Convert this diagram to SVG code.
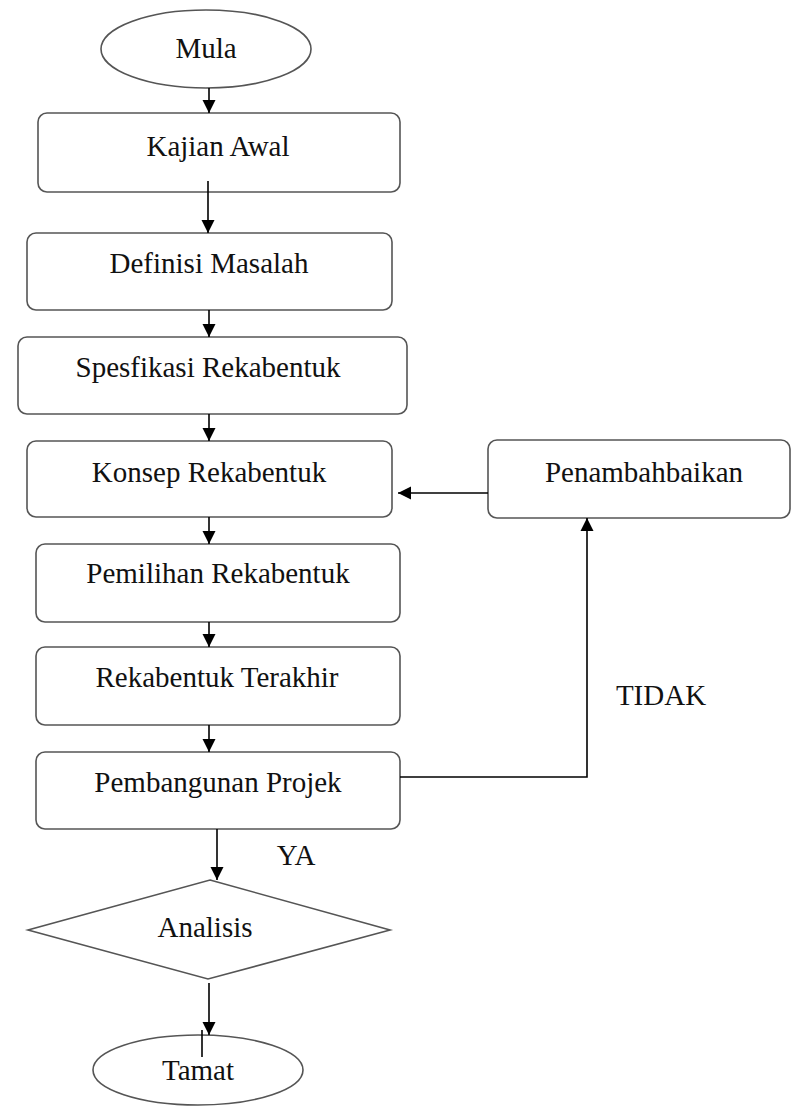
<svg xmlns="http://www.w3.org/2000/svg" width="792" height="1110" viewBox="0 0 792 1110">
<defs>
<marker id="ah" markerWidth="14" markerHeight="14" refX="13" refY="7" orient="auto" markerUnits="userSpaceOnUse">
<path d="M0,0.5 L13,7 L0,13.5 Z" fill="#000"/>
</marker>
<style>
.box{fill:#fff;stroke:#555;stroke-width:1.6}
.t{font-family:"Liberation Serif","Times New Roman",serif;font-size:29px;fill:#111;text-anchor:middle}
.c{stroke:#000;stroke-width:1.6;fill:none}
</style>
</defs>
<rect width="792" height="1110" fill="#fff"/>
<g id="mula"><ellipse class="box" cx="206" cy="49" rx="105" ry="39"/><text class="t" x="206" y="58">Mula</text></g>
<g id="kajian"><rect class="box" x="38" y="113" width="362" height="79" rx="9"/><text class="t" x="218" y="156">Kajian Awal</text></g>
<g id="definisi"><rect class="box" x="27" y="233" width="365" height="77" rx="9"/><text class="t" x="209" y="273">Definisi Masalah</text></g>
<g id="spesifikasi"><rect class="box" x="18" y="337" width="389" height="77" rx="9"/><text class="t" x="208" y="377">Spesfikasi Rekabentuk</text></g>
<g id="konsep"><rect class="box" x="27" y="441" width="365" height="76" rx="9"/><text class="t" x="209" y="482">Konsep Rekabentuk</text></g>
<g id="pemilihan"><rect class="box" x="36" y="544" width="364" height="78" rx="9"/><text class="t" x="218" y="583">Pemilihan Rekabentuk</text></g>
<g id="terakhir"><rect class="box" x="36" y="647" width="364" height="78" rx="9"/><text class="t" x="217" y="687">Rekabentuk Terakhir</text></g>
<g id="pembangunan"><rect class="box" x="36" y="752" width="364" height="77" rx="9"/><text class="t" x="218" y="792">Pembangunan Projek</text></g>
<g id="penambahbaikan"><rect class="box" x="488" y="440" width="302" height="78" rx="9"/><text class="t" x="644" y="482">Penambahbaikan</text></g>
<g id="analisis"><polygon class="box" points="210,880 390,930 208,979 28,930"/><text class="t" x="205" y="937">Analisis</text></g>
<g id="tamat"><ellipse class="box" cx="198" cy="1070" rx="105" ry="35"/><text class="t" x="198" y="1080">Tamat</text></g>
<g id="connectors">
<line class="c" x1="209" y1="88" x2="209" y2="113" marker-end="url(#ah)"/>
<line class="c" x1="208" y1="181" x2="208" y2="233" marker-end="url(#ah)"/>
<line class="c" x1="209" y1="310" x2="209" y2="337" marker-end="url(#ah)"/>
<line class="c" x1="209" y1="414" x2="209" y2="441" marker-end="url(#ah)"/>
<line class="c" x1="209" y1="517" x2="209" y2="544" marker-end="url(#ah)"/>
<line class="c" x1="209" y1="622" x2="209" y2="647" marker-end="url(#ah)"/>
<line class="c" x1="209" y1="725" x2="209" y2="752" marker-end="url(#ah)"/>
<line class="c" x1="217" y1="829" x2="217" y2="880" marker-end="url(#ah)"/>
<line class="c" x1="209" y1="983" x2="209" y2="1035" marker-end="url(#ah)"/>
<line class="c" x1="202" y1="1030" x2="202" y2="1057"/>
<line class="c" x1="488" y1="493" x2="398" y2="493" marker-end="url(#ah)"/>
<polyline class="c" points="400,777 587,777 587,518" marker-end="url(#ah)"/>
<text class="t" x="661" y="705">TIDAK</text>
<text class="t" x="296" y="865">YA</text>
</g>
</svg>
